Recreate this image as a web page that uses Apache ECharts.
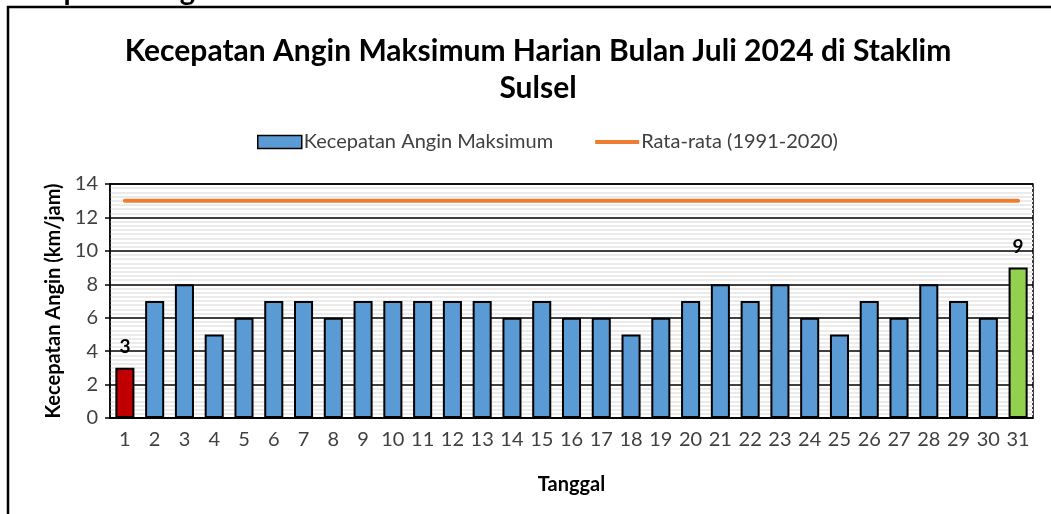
<!DOCTYPE html>
<html>
<head>
<meta charset="utf-8">
<script src="https://cdn.jsdelivr.net/npm/echarts@6/dist/echarts.min.js"></script>
<style>
  html, body { margin: 0; padding: 0; background: #fff; }
  #chart { width: 1051px; height: 514px; }
</style>
</head>
<body>
<div id="chart"></div>
<script>
// data
const days = ["1","2","3","4","5","6","7","8","9","10","11","12","13","14","15","16",
  "17","18","19","20","21","22","23","24","25","26","27","28","29","30","31"];
const windMax = [3, 7, 8, 5, 6, 7, 7, 6, 7, 7, 7, 7, 7, 6, 7, 6,
  6, 5, 6, 7, 8, 7, 8, 6, 5, 7, 6, 8, 7, 6, 9];
const normalValue = 13; // Rata-rata (1991-2020)
const yTicks = [0, 2, 4, 6, 8, 10, 12, 14];

const font = "Lato, 'Open Sans', sans-serif";

// lowest day red, highest day green, rest blue
const endLabel = { show: true, position: "top", fontWeight: "bold", fontSize: 19, color: "#000", offset: [0, -6] };
const barData = windMax.map((v, i) => {
  if (i === 0) {
    return { value: v, itemStyle: { color: "#c00000" }, label: endLabel };
  }
  if (i === windMax.length - 1) {
    return { value: v, itemStyle: { color: "#92d050" }, label: endLabel };
  }
  return v;
});

const chart = echarts.init(document.getElementById("chart"));
chart.setOption({
  animation: false,
  textStyle: { fontFamily: font },
  graphic: [
    {
      type: "rect",
      shape: { x: 8, y: 7, width: 1100, height: 600 },
      style: { fill: "none", stroke: "#000", lineWidth: 2.5 },
      z: 100
    },
    {
      type: "text",
      left: 0,
      top: -24,
      style: { text: "Kecepatan Angin", font: "bold 29px " + font, fill: "#000", align: "left" },
      x: -60,
      z: 100
    }
  ],
  title: {
    text: "Kecepatan Angin Maksimum Harian Bulan Juli 2024 di Staklim\nSulsel",
    left: 533,
    top: 28,
    textAlign: "center",
    textStyle: { fontSize: 30, fontWeight: "bold", color: "#000", lineHeight: 37, fontFamily: font }
  },
  legend: {
    top: 127,
    left: 252,
    itemGap: 42,
    textStyle: { fontSize: 20, color: "#404040", fontFamily: font, padding: [0, 0, 0, -3] },
    data: [
      { name: "Kecepatan Angin Maksimum", icon: "rect",
        itemStyle: { color: "#5b9bd5", borderColor: "#000", borderWidth: 1.5 } },
      { name: "Rata-rata (1991-2020)", icon: "path://M0,0 L44,0 L44,4 L0,4 Z",
        itemStyle: { color: "#ed7d31" } }
    ],
    itemWidth: 44,
    itemHeight: 13
  },
  grid: { left: 110, right: 18, top: 184, bottom: 96, show: true, borderColor: "#000", borderWidth: 1.5 },
  xAxis: {
    type: "category",
    data: days,
    name: "Tanggal",
    nameLocation: "middle",
    nameGap: 57,
    nameTextStyle: { fontSize: 20, fontWeight: "bold", color: "#000" },
    axisLine: { lineStyle: { color: "#000", width: 1.5 } },
    axisTick: { alignWithLabel: true, length: 5, lineStyle: { color: "#000", width: 1.5 } },
    axisLabel: { fontSize: 20, color: "#404040", margin: 12, interval: 0 }
  },
  yAxis: {
    type: "value",
    min: yTicks[0],
    max: yTicks[yTicks.length - 1],
    interval: 2,
    name: "Kecepatan Angin (km/jam)",
    nameLocation: "middle",
    nameGap: 41,
    nameTextStyle: { fontSize: 20, fontWeight: "bold", color: "#000" },
    axisLine: { show: true, lineStyle: { color: "#000", width: 1.5 } },
    axisTick: { show: true, length: 5, lineStyle: { color: "#000", width: 1.5 } },
    axisLabel: { fontSize: 20, color: "#404040", margin: 12 },
    splitLine: { lineStyle: { color: "#000", width: 1.5 } },
    minorTick: { show: false, splitNumber: 8 },
    minorSplitLine: { show: true, lineStyle: { color: "#ebebeb", width: 2 } }
  },
  series: [
    {
      name: "Kecepatan Angin Maksimum",
      type: "bar",
      data: barData,
      barWidth: "64%",
      itemStyle: { color: "#5b9bd5", borderColor: "#000", borderWidth: 2 },
      z: 3
    },
    {
      name: "Rata-rata (1991-2020)",
      type: "line",
      data: days.map(() => normalValue),
      symbol: "none",
      lineStyle: { color: "#ed7d31", width: 4, cap: "round" },
      itemStyle: { color: "#ed7d31" },
      z: 4
    }
  ]
});
</script>
</body>
</html>
